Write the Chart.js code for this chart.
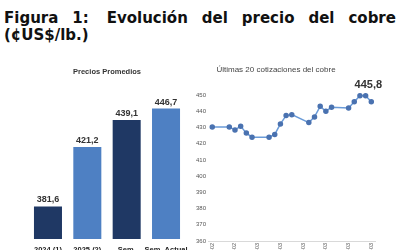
<!DOCTYPE html>
<html>
<head>
<meta charset="utf-8">
<script src="https://cdn.jsdelivr.net/npm/chart.js@4"></script>
<style>
  html, body { margin:0; padding:0; background:#fff; width:400px; height:250px; overflow:hidden; }
  #t1 { position:absolute; left:4px; top:9px; width:392px; display:flex; justify-content:space-between;
        font:bold 15px "DejaVu Sans", sans-serif; line-height:18px; color:#111; white-space:nowrap; }
  #t2 { position:absolute; left:4px; top:26px; font:bold 15px "DejaVu Sans", sans-serif; line-height:18px; color:#111; }
  #c1 { position:absolute; left:0; top:60px; }
  #c2 { position:absolute; left:177px; top:60px; }
</style>
</head>
<body>
<div id="t1"><span>Figura</span><span style="margin-right:4px">1:</span><span>Evolución</span><span>del</span><span>precio</span><span>del</span><span>cobre</span></div>
<div id="t2">(¢US$/lb.)</div>
<canvas id="c1" width="210" height="200"></canvas>
<canvas id="c2" width="223" height="200"></canvas>
<script>
// ---- data ----
const barCategories = [['2024 (1)'], ['2025 (2)'], ['Sem.', 'Anterior'], ['Sem. Actual']];
const barValues = [381.6, 421.2, 439.1, 446.7];

const quoteDays = [0, 3, 4, 5, 6, 7, 10, 11, 12, 13, 14, 17, 18, 19, 20, 21, 24, 25, 26, 27, 28];
const quoteValues = [430.2, 430.2, 428.5, 430.8, 426.5, 424.0, 424.0, 425.7, 432.2, 437.3, 437.9,
                     433.0, 436.5, 443.0, 440.0, 442.5, 442.0, 445.8, 449.5, 449.5, 445.8];
const tickDays = [0, 4, 8, 12, 16, 20, 24, 28];
const tickLabels = ['21-02', '25-02', '01-03', '05-03', '09-03', '13-03', '17-03', '21-03'];

// ---- styles ----
const barColors = ['#1f3864', '#4e80c3', '#1f3864', '#4e80c3'];
const fmt = v => v.toFixed(1).replace('.', ',');

const barLabelPlugin = {
  id: 'barLabels',
  afterDatasetsDraw(chart) {
    const ctx = chart.ctx, meta = chart.getDatasetMeta(0);
    ctx.save();
    ctx.font = 'bold 9px "Liberation Sans", sans-serif';
    ctx.fillStyle = '#333';
    ctx.textAlign = 'center';
    ctx.textBaseline = 'middle';
    meta.data.forEach((el, i) => ctx.fillText(fmt(barValues[i]), el.x, el.y - 6.5));
    ctx.restore();
  }
};

new Chart(document.getElementById('c1'), {
  type: 'bar',
  data: {
    labels: barCategories,
    datasets: [{ data: barValues, backgroundColor: barColors, borderWidth: 0,
                 barPercentage: 0.712, categoryPercentage: 1 }]
  },
  options: {
    responsive: false, animation: false, devicePixelRatio: 1,
    layout: { padding: { left: 28.3, right: 24.3, top: 0, bottom: 0 } },
    plugins: {
      legend: { display: false }, tooltip: { enabled: false },
      title: { display: true, text: 'Precios Promedios', color: '#333',
               font: { family: '"Liberation Sans", sans-serif', size: 7.5, weight: 'bold', lineHeight: 1.2 },
               padding: { top: 7.8, bottom: 11.7 } }
    },
    scales: {
      y: { display: false, min: 360, max: 460 },
      x: {
        grid: { display: false, drawTicks: false }, border: { display: false },
        ticks: { color: '#222', padding: 6, autoSkip: false, maxRotation: 0,
                 font: { family: '"Liberation Sans", sans-serif', size: 7.5, weight: 'bold', lineHeight: 1.2 } },
        afterFit(s) { s.height = 21; }
      }
    }
  },
  plugins: [barLabelPlugin]
});

const lastLabelPlugin = {
  id: 'lastLabel',
  afterDatasetsDraw(chart) {
    const ctx = chart.ctx, meta = chart.getDatasetMeta(0);
    const el = meta.data[meta.data.length - 1];
    ctx.save();
    ctx.font = 'bold 11px "Liberation Sans", sans-serif';
    ctx.fillStyle = '#333';
    ctx.textAlign = 'center';
    ctx.textBaseline = 'middle';
    ctx.fillText(fmt(quoteValues[quoteValues.length - 1]), el.x - 3, el.y - 17);
    ctx.restore();
  }
};

new Chart(document.getElementById('c2'), {
  type: 'line',
  data: {
    datasets: [{
      data: quoteDays.map((d, i) => ({ x: d, y: quoteValues[i] })),
      borderColor: '#6a9bd8', borderWidth: 1.5, tension: 0,
      pointBackgroundColor: '#4a72b0', pointBorderColor: '#4a72b0', pointRadius: 2,
      clip: false
    }]
  },
  options: {
    responsive: false, animation: false, devicePixelRatio: 1,
    layout: { padding: { left: 0, right: 25, top: 0, bottom: 0 } },
    plugins: {
      legend: { display: false }, tooltip: { enabled: false },
      title: { display: true, text: 'Últimas 20 cotizaciones del cobre', color: '#444',
               font: { family: '"Liberation Sans", sans-serif', size: 8, weight: 'normal', lineHeight: 1.2 },
               padding: { top: 5.2, bottom: 20.2 } }
    },
    scales: {
      y: {
        min: 360, max: 450,
        grid: { display: false, drawTicks: false }, border: { display: false },
        ticks: { stepSize: 10, padding: 2, color: '#555',
                 font: { family: '"Liberation Sans", sans-serif', size: 6 } },
        afterFit(s) { s.width = 31; }
      },
      x: {
        type: 'linear', min: -0.75, max: 28.65,
        grid: { display: false, drawTicks: false }, border: { display: true, color: '#d9d9d9', width: 1 },
        afterBuildTicks(s) { s.ticks = tickDays.map(v => ({ value: v })); },
        ticks: { autoSkip: false, minRotation: 90, maxRotation: 90, padding: 2, color: '#555',
                 font: { family: '"Liberation Sans", sans-serif', size: 5.5 },
                 callback: v => tickLabels[tickDays.indexOf(v)] },
        afterFit(s) { s.height = 19; }
      }
    }
  },
  plugins: [lastLabelPlugin]
});
</script>
</body>
</html>
